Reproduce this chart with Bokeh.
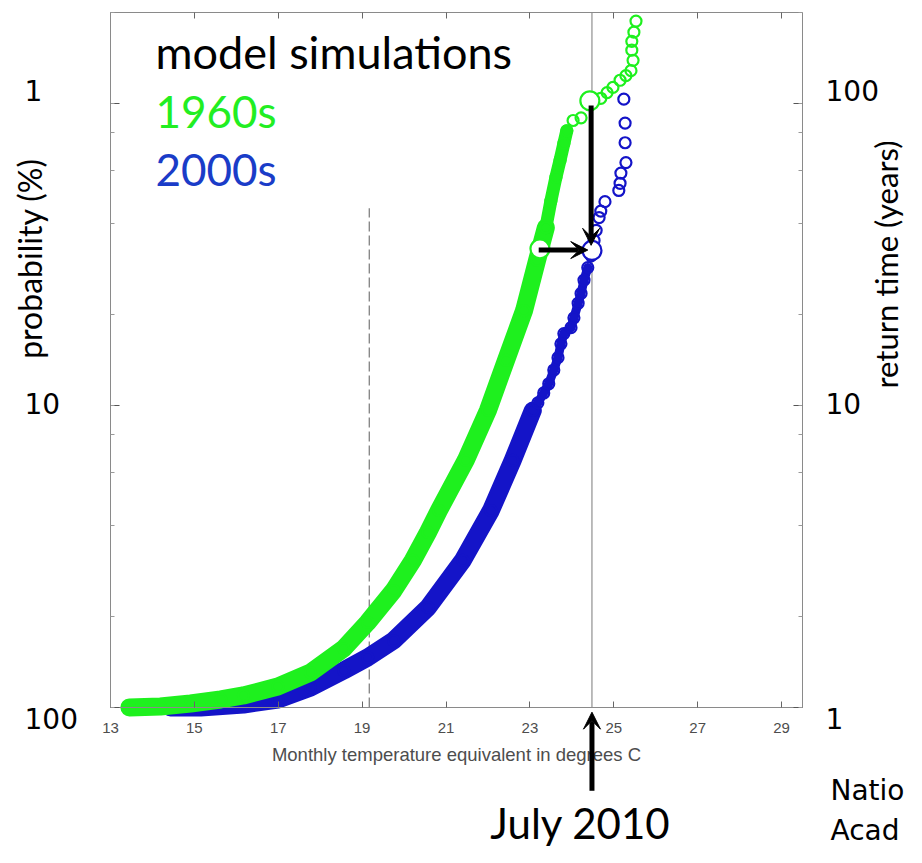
import math
from bokeh.plotting import figure
from bokeh.models import (Range1d, LinearAxis, LogAxis, FixedTicker, LogTicker,
                          Label, Arrow, VeeHead)
from bokeh.embed import file_html
from bokeh.resources import INLINE

# ---------------- data ----------------
# 1960s model simulations (temperature in deg C, return time in years)
green_dense_T = [13.45, 14.19, 14.91, 15.63, 16.17, 16.99, 17.77, 18.56, 19.13, 19.75,
                 20.21, 20.57, 20.83, 21.47, 22.00, 22.43, 22.86, 23.17, 23.38]
green_dense_R = [1.00, 1.008, 1.031, 1.063, 1.096, 1.174, 1.306, 1.568, 1.912, 2.44,
                 3.07, 3.80, 4.49, 6.58, 9.63, 14.1, 20.6, 30.2, 38.8]
green_upper_T = [23.38, 23.50, 23.62, 23.72, 23.81, 23.88]
green_upper_R = [38.8, 47.5, 56.9, 65.0, 73.7, 81.2]
green_tail_T = [24.03, 24.22, 24.69, 24.84, 24.98, 25.15, 25.29, 25.41, 25.46, 25.43, 25.43, 25.48, 25.53]
green_tail_R = [87.8, 89.6, 104.0, 108.6, 113.0, 119.3, 123.6, 128.4, 138.9, 150.1, 160.5, 172.1, 187.3]

# 2000s model simulations
blue_dense_T = [14.43, 15.15, 16.17, 16.99, 17.77, 18.56, 19.13, 19.75, 20.57, 21.40,
                22.07, 22.59, 23.07]
blue_dense_R = [1.00, 1.00, 1.023, 1.063, 1.165, 1.326, 1.464, 1.666, 2.143, 3.07,
                4.49, 6.58, 9.63]
blue_upper_T = [23.07, 23.19, 23.33, 23.45, 23.57, 23.67, 23.74, 23.81, 23.98, 24.05, 24.15,
                24.22, 24.29, 24.38]
blue_upper_R = [9.63, 10.2, 11.0, 11.8, 13.1, 14.4, 16.0, 17.3, 18.1, 19.5, 21.8,
                23.5, 26.0, 28.6]
blue_tail_T = [24.46, 24.53, 24.58, 24.65, 24.69, 24.79, 25.12, 25.15, 25.17,
               25.29, 25.27, 25.27, 25.24]
blue_tail_R = [31.3, 35.2, 38.0, 41.9, 44.0, 47.3, 51.5, 54.4, 58.8,
               63.7, 74.1, 86.1, 103.3]

# highlighted points (July 2010 event)
july2010_T = 24.48
hl_green_T = [24.43, 23.24]
hl_green_R = [102.0, 33.0]
hl_blue_T = [24.48]
hl_blue_R = [32.6]

# arrows: (x_start, y_start, x_end, y_end)
arrow_down = (24.46, 98.5, 24.46, 33.9)
arrow_right = (23.21, 32.7, 24.38, 32.7)
arrow_up = (24.48, 0.53, 24.48, 0.965)

# dashed reference line
dashed_T = 19.17
dashed_top_R = 45.0

# axes extents and ticks
T_MIN, T_MAX = 13, 29.5
R_MIN, R_MAX = 1, 200
x_ticks = [13, 15, 17, 19, 21, 23, 25, 27, 29]
return_ticks = [100, 10, 1]
prob_tick_labels = ["1", "10", "100"]
return_tick_labels = ["100", "10", "1"]

GREEN = "#1ef01e"
BLUE = "#1414c8"
AXIS_GREY = "#8a8a8a"

# ---------------- layout: the plot box inside the canvas ----------------
W, H = 906, 847
BOX_L, BOX_R, BOX_T, BOX_B = 110, 802, 12, 707   # pixels
ppd = (BOX_R - BOX_L) / (T_MAX - T_MIN)
ppdec = (BOX_B - BOX_T) / math.log10(R_MAX / R_MIN)
x_range = Range1d(T_MIN - BOX_L / ppd, T_MAX + (W - BOX_R) / ppd)
y_range = Range1d(R_MIN * 10 ** (-(H - BOX_B) / ppdec), R_MAX * 10 ** (BOX_T / ppdec))

p = figure(width=W, height=H, x_range=x_range, y_range=y_range,
           y_axis_type="log", x_axis_location=None, y_axis_location=None,
           output_backend="svg", toolbar_location=None,
           min_border_left=0, min_border_right=0, min_border_top=0, min_border_bottom=0)
p.xgrid.visible = False
p.ygrid.visible = False
p.outline_line_color = None
p.background_fill_color = "white"
p.border_fill_color = "white"

# bottom axis
xb = LinearAxis(fixed_location=R_MIN, bounds=(T_MIN, T_MAX), ticker=FixedTicker(ticks=x_ticks),
                major_tick_in=6, major_tick_out=0, minor_tick_line_color=None,
                axis_line_color=AXIS_GREY, major_tick_line_color="#666666",
                major_label_text_font="Liberation Sans", major_label_text_font_size="15px",
                major_label_text_color="#4d4d4d", major_label_standoff=15,
                axis_label="Monthly temperature equivalent in degrees C",
                axis_label_text_font="Liberation Sans", axis_label_text_font_size="18.5px",
                axis_label_text_font_style="normal", axis_label_text_color="#4d4d4d",
                axis_label_standoff=8)
p.add_layout(xb, "below")

# top axis (ticks only)
xt = LinearAxis(fixed_location=R_MAX, bounds=(T_MIN, T_MAX), ticker=FixedTicker(ticks=x_ticks),
                major_tick_in=6, major_tick_out=0, minor_tick_line_color=None,
                axis_line_color=AXIS_GREY, major_tick_line_color="#666666",
                major_label_text_color=None)
p.add_layout(xt, "above")

# left and right log axes (ticks only, labels are placed as texts below)
for loc, side in [(T_MIN, "left"), (T_MAX, "right")]:
    ax = LogAxis(fixed_location=loc, bounds=(R_MIN, R_MAX), ticker=LogTicker(),
                 major_tick_in=9, major_tick_out=0, minor_tick_in=4, minor_tick_out=0,
                 axis_line_color=AXIS_GREY, major_tick_line_color="#555555",
                 minor_tick_line_color="#999999", major_label_text_color=None)
    p.add_layout(ax, side)

# reference lines
p.segment(x0=[july2010_T], y0=[R_MIN], x1=[july2010_T], y1=[R_MAX],
          line_color="#7a7a7a", line_width=1)
p.segment(x0=[dashed_T], y0=[R_MIN], x1=[dashed_T], y1=[dashed_top_R],
          line_color="#777777", line_width=1.2, line_dash="10 4")

# 2000s (drawn first: the 1960s curve lies on top of it near the bottom)
p.line(blue_dense_T, blue_dense_R, line_color=BLUE, line_width=18,
       line_cap="round", line_join="round")
p.line(blue_upper_T, blue_upper_R, line_color=BLUE, line_width=9,
       line_cap="round", line_join="round")
p.scatter(blue_dense_T + blue_upper_T + blue_tail_T, blue_dense_R + blue_upper_R + blue_tail_R,
          marker="circle", size=11, fill_color=None, line_color=BLUE, line_width=2.2)
# 1960s
p.line(green_dense_T, green_dense_R, line_color=GREEN, line_width=18,
       line_cap="round", line_join="round")
p.line(green_upper_T, green_upper_R, line_color=GREEN, line_width=13,
       line_cap="round", line_join="round")
p.scatter(green_dense_T + green_upper_T + green_tail_T, green_dense_R + green_upper_R + green_tail_R,
          marker="circle", size=11, fill_color=None, line_color=GREEN, line_width=2.2)

# highlighted circles
p.scatter(hl_green_T, hl_green_R, marker="circle", size=19, fill_color="white",
          line_color=GREEN, line_width=2.2)
p.scatter(hl_blue_T, hl_blue_R, marker="circle", size=19, fill_color="white",
          line_color=BLUE, line_width=2.2)

# arrows
for (xs, ys, xe, ye) in [arrow_down, arrow_right, arrow_up]:
    p.add_layout(Arrow(end=VeeHead(size=17, fill_color="black", line_color="black", line_width=1),
                       x_start=xs, y_start=ys, x_end=xe, y_end=ye,
                       line_width=5, line_color="black"))

# ---------------- texts (x, y given in pixels from the top-left) ----------------
def lab(text, px, py, size, font="Lato", color="black", align="left", angle=0.0):
    p.add_layout(Label(x=px, y=H - py, x_units="screen", y_units="screen", text=text,
                       text_font=font, text_font_size=size, text_color=color,
                       text_align=align, text_baseline="middle", angle=angle))

lab("model simulations", 155, 51, "45px")
lab("1960s", 155, 110, "44px", color="#22ee22")
lab("2000s", 155, 168, "44px", color="#1a3cc8")

label_py = [90, 403, 718]
for t, py in zip(prob_tick_labels, label_py):
    lab(t, 24, py, "28px", font="DejaVu Sans")
for t, py in zip(return_tick_labels, label_py):
    lab(t, 825, py, "28px", font="DejaVu Sans")

lab("probability (%)", 29, 258, "32px", align="center", angle=math.pi / 2)
lab("return time (years)", 885, 264, "31px", align="center", angle=math.pi / 2)
lab("July 2010", 580, 822, "42px", align="center")
lab("Natio", 830, 790, "28px", font="DejaVu Sans")
lab("Acad", 830, 830, "28px", font="DejaVu Sans")

open("out.html", "w").write(file_html(p, INLINE))
